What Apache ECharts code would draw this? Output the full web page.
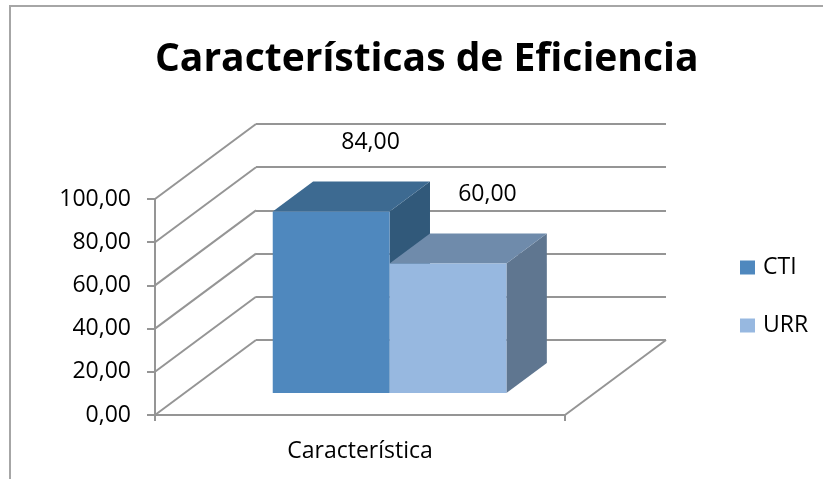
<!DOCTYPE html>
<html>
<head>
<meta charset="utf-8">
<script src="https://cdn.jsdelivr.net/npm/echarts@6/dist/echarts.min.js"></script>
<style>
html,body{margin:0;padding:0;background:#fff;}
#chart{width:823px;height:479px;}
</style>
</head>
<body>
<div id="chart"></div>
<script>
// ---- data ----
const titleText = 'Características de Eficiencia';
const categories = ['Característica'];
const seriesNames = ['CTI', 'URR'];
const ctiValues = [84];
const urrValues = [60];
const yTickValues = [0, 20, 40, 60, 80, 100];

// ---- layout / style ----
const FONT = 'Open Sans';
const FRONT = { left: 155, top: 199, width: 410, height: 216 };
const DEPTH = { dx: 101, dy: -75 };
const BAR_FRONT = 0.293, BAR_BACK = 0.693, BAR_W = 0.285;
const GRID_COLOR = '#959595';
const COLORS = [
  { front: '#4F88BE', top: '#3D6A91', side: '#31597A' },
  { front: '#97B8E0', top: '#6F8BAB', side: '#5F7690' }
];

const chart = echarts.init(document.getElementById('chart'), null, { renderer: 'canvas' });

function fmt(v) { return v.toFixed(2).replace('.', ','); }

function renderWall(params, api) {
  const v = api.value(1);
  const p = api.coord([0, v]);
  const bw = api.size([1, 0])[0];
  const xl = p[0] - bw / 2;
  const st = { stroke: GRID_COLOR, lineWidth: 2 };
  const children = [{ type: 'line', shape: { x1: xl, y1: p[1], x2: xl + DEPTH.dx, y2: p[1] + DEPTH.dy }, style: st }];
  if (v === yTickValues[0]) {
    const xr = xl + bw;
    children.push({ type: 'line', shape: { x1: xr, y1: p[1], x2: xr + DEPTH.dx, y2: p[1] + DEPTH.dy }, style: st });
  }
  return { type: 'group', children };
}

function makeBarRenderer(i) {
  return function (params, api) {
    const cat = api.value(0);
    const val = api.value(1);
    const p0 = api.coord([cat, 0]);
    const p1 = api.coord([cat, val]);
    const bw = api.size([1, 0])[0];
    const W = BAR_W * bw;
    const xl = p0[0] + (i - 1) * W;
    const xr = xl + W;
    const ox1 = BAR_FRONT * DEPTH.dx, oy1 = BAR_FRONT * DEPTH.dy;
    const ox2 = BAR_BACK * DEPTH.dx, oy2 = BAR_BACK * DEPTH.dy;
    const y0 = p0[1], y1 = p1[1];
    const c = COLORS[i];
    return {
      type: 'group',
      children: [
        { type: 'polygon', shape: { points: [[xr + ox1, y1 + oy1], [xr + ox2, y1 + oy2], [xr + ox2, y0 + oy2], [xr + ox1, y0 + oy1]] }, style: { fill: c.side } },
        { type: 'polygon', shape: { points: [[xl + ox1, y1 + oy1], [xr + ox1, y1 + oy1], [xr + ox2, y1 + oy2], [xl + ox2, y1 + oy2]] }, style: { fill: c.top } },
        { type: 'rect', shape: { x: xl + ox1, y: y1 + oy1, width: W, height: y0 - y1 }, style: { fill: c.front } },
        { type: 'text', x: (xl + xr) / 2 + ox2 - 1, y: y1 + oy2 - 39,
          style: { text: fmt(val), fill: '#000', font: '23px "' + FONT + '"', align: 'center', verticalAlign: 'middle' } }
      ]
    };
  };
}

const valueSets = [ctiValues, urrValues];

const option = {
  animation: false,
  textStyle: { fontFamily: FONT },
  title: {
    text: titleText, left: 150, top: 35,
    textStyle: { fontFamily: FONT, fontWeight: 'bold', fontSize: 39, color: '#000' }
  },
  legend: {
    data: seriesNames, orient: 'vertical', left: 740, top: 256,
    icon: 'rect', itemWidth: 15, itemHeight: 14, itemGap: 35, padding: 0,
    textStyle: { fontFamily: FONT, fontSize: 23, color: '#000', lineHeight: 14, padding: [0, 0, 0, 3] }
  },
  graphic: [{
    type: 'rect', shape: { x: 10, y: 6, width: 900, height: 600 },
    style: { fill: 'none', stroke: '#A6A6A6', lineWidth: 2 }, z: -10, silent: true
  }],
  grid: [
    { left: FRONT.left, top: FRONT.top, width: FRONT.width, height: FRONT.height },
    { left: FRONT.left + DEPTH.dx, top: FRONT.top + DEPTH.dy, width: FRONT.width, height: FRONT.height }
  ],
  xAxis: [
    { type: 'category', gridIndex: 0, data: categories,
      axisLine: { show: true, lineStyle: { color: GRID_COLOR, width: 2 } },
      axisTick: { show: true, length: 6, lineStyle: { color: GRID_COLOR, width: 2 } },
      axisLabel: { fontFamily: FONT, fontSize: 23, color: '#000', margin: 25 } },
    { type: 'category', gridIndex: 1, data: categories, show: false }
  ],
  yAxis: [
    { type: 'value', gridIndex: 0, min: yTickValues[0], max: yTickValues[yTickValues.length - 1], interval: 20,
      axisLine: { show: true, lineStyle: { color: GRID_COLOR, width: 2 } },
      axisTick: { show: true, length: 8, lineStyle: { color: GRID_COLOR, width: 2 } },
      splitLine: { show: false },
      axisLabel: { fontFamily: FONT, fontSize: 23, color: '#000', margin: 24, formatter: fmt } },
    { type: 'value', gridIndex: 1, min: yTickValues[0], max: yTickValues[yTickValues.length - 1], interval: 20,
      axisLine: { show: false }, axisTick: { show: false }, axisLabel: { show: false },
      splitLine: { show: true, lineStyle: { color: GRID_COLOR, width: 2 } } }
  ],
  series: [
    { type: 'custom', name: 'wall', xAxisIndex: 0, yAxisIndex: 0, z: 1, silent: true,
      data: yTickValues.map(v => [0, v]), renderItem: renderWall },
    ...seriesNames.map((name, i) => ({
      type: 'custom', name, xAxisIndex: 0, yAxisIndex: 0, z: 3 + i,
      itemStyle: { color: COLORS[i].front },
      data: valueSets[i].map((v, k) => [k, v]),
      renderItem: makeBarRenderer(i)
    }))
  ]
};
chart.setOption(option);
</script>
</body>
</html>
